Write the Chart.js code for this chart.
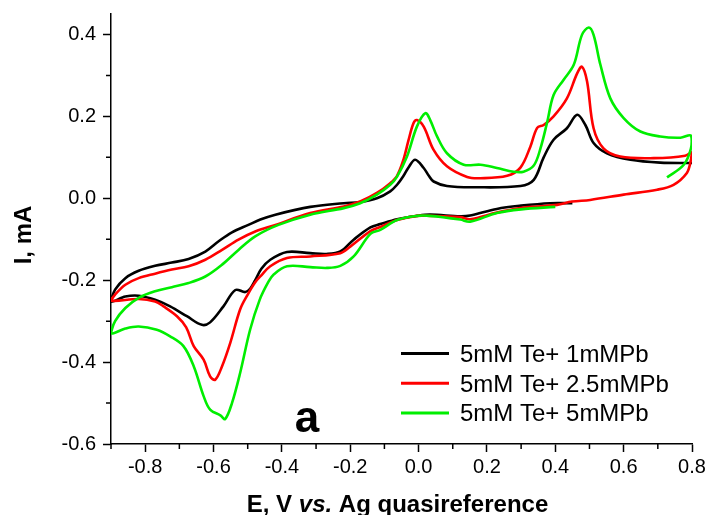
<!DOCTYPE html>
<html>
<head>
<meta charset="utf-8">
<script src="https://cdn.jsdelivr.net/npm/chart.js@4"></script>
<style>
  html, body { margin: 0; padding: 0; background: #fff; }
  #wrap { width: 707px; height: 515px; }
</style>
</head>
<body>
<div id="wrap"><canvas id="cv" width="707" height="515"></canvas></div>
<script>
// tick values
const xTicks = [-0.8, -0.6, -0.4, -0.2, 0.0, 0.2, 0.4, 0.6, 0.8];
const xMinor = [-0.9, -0.7, -0.5, -0.3, -0.1, 0.1, 0.3, 0.5, 0.7];
const yTicks = [-0.6, -0.4, -0.2, 0.0, 0.2, 0.4];
const yMinor = [-0.5, -0.3, -0.1, 0.1, 0.3];

const seriesLabels = ['5mM Te+ 1mMPb', '5mM Te+ 2.5mMPb', '5mM Te+ 5mMPb'];

// 5mM Te + 1mM Pb (E in V, I in mA), cathodic scan first then anodic
const blackE = [0.45, 0.385, 0.30, 0.229, 0.151, 0.122, 0.034, -0.005, -0.063, -0.112, -0.141, -0.19, -0.229, -0.27, -0.317,
  -0.385, -0.434, -0.46, -0.478, -0.493, -0.507, -0.536, -0.571, -0.610, -0.634, -0.678, -0.727, -0.771, -0.819, -0.858, -0.9,
  -0.888, -0.858, -0.819, -0.771, -0.722, -0.673, -0.624, -0.585, -0.546, -0.498, -0.463, -0.419, -0.317, -0.219, -0.171,
  -0.122, -0.083, -0.063, -0.044, -0.029, -0.010, 0.015, 0.03, 0.044, 0.083, 0.161, 0.298, 0.337, 0.366, 0.395, 0.434,
  0.464, 0.488, 0.512, 0.551, 0.620, 0.707, 0.80];
const blackI = [-0.012, -0.012, -0.018, -0.026, -0.042, -0.044, -0.040, -0.043, -0.051, -0.063, -0.071, -0.101, -0.130, -0.136, -0.134,
  -0.131, -0.150, -0.172, -0.200, -0.221, -0.229, -0.224, -0.264, -0.303, -0.309, -0.288, -0.264, -0.248, -0.238, -0.240, -0.252,
  -0.223, -0.195, -0.177, -0.165, -0.157, -0.148, -0.130, -0.105, -0.083, -0.065, -0.052, -0.040, -0.021, -0.012, -0.009,
  0.000, 0.017, 0.033, 0.055, 0.076, 0.094, 0.074, 0.055, 0.041, 0.030, 0.027, 0.030, 0.045, 0.100, 0.143, 0.171,
  0.204, 0.179, 0.135, 0.110, 0.094, 0.087, 0.086];

// 5mM Te + 2.5mM Pb
const redE = [0.80, 0.796, 0.785, 0.746, 0.698, 0.60, 0.502, 0.449, 0.405, 0.347, 0.298, 0.229, 0.151, 0.122, 0.034, -0.005,
  -0.063, -0.112, -0.141, -0.200, -0.229, -0.317, -0.385, -0.434, -0.46, -0.478, -0.50, -0.522, -0.551, -0.575, -0.595,
  -0.610, -0.629, -0.658, -0.68, -0.707, -0.746, -0.771, -0.819, -0.9,
  -0.888, -0.858, -0.819, -0.771, -0.722, -0.673, -0.624, -0.575, -0.527, -0.478, -0.419, -0.317, -0.219, -0.171, -0.122,
  -0.083, -0.063, -0.044, -0.030, -0.015, -0.005, 0.015, 0.044, 0.083, 0.142, 0.181, 0.259, 0.298, 0.327, 0.347, 0.366,
  0.395, 0.434, 0.464, 0.478, 0.493, 0.512, 0.541, 0.590, 0.688, 0.78, 0.80];
const redI = [0.114, 0.090, 0.062, 0.033, 0.021, 0.009, -0.004, -0.008, -0.016, -0.020, -0.024, -0.035, -0.051, -0.046, -0.043, -0.043,
  -0.053, -0.070, -0.080, -0.118, -0.134, -0.142, -0.146, -0.166, -0.188, -0.205, -0.235, -0.271, -0.353, -0.410, -0.443,
  -0.435, -0.394, -0.361, -0.315, -0.288, -0.264, -0.252, -0.246, -0.250,
  -0.235, -0.211, -0.195, -0.184, -0.174, -0.166, -0.150, -0.126, -0.101, -0.081, -0.065, -0.036, -0.020, -0.008, 0.013,
  0.037, 0.055, 0.095, 0.140, 0.183, 0.191, 0.175, 0.118, 0.078, 0.052, 0.049, 0.055, 0.075, 0.126, 0.172, 0.179,
  0.200, 0.244, 0.305, 0.321, 0.285, 0.171, 0.122, 0.102, 0.098, 0.104, 0.114];

// 5mM Te + 5mM Pb
const greenE = [0.40, 0.30, 0.229, 0.151, 0.122, 0.034, -0.005, -0.063, -0.112, -0.141, -0.19, -0.229, -0.268, -0.317, -0.385,
  -0.424, -0.44, -0.465, -0.493, -0.522, -0.546, -0.566, -0.580, -0.610, -0.629, -0.658, -0.688, -0.727, -0.766, -0.819,
  -0.858, -0.9,
  -0.888, -0.858, -0.819, -0.771, -0.722, -0.673, -0.624, -0.575, -0.527, -0.478, -0.41, -0.317, -0.219, -0.171, -0.122,
  -0.083, -0.063, -0.034, -0.005, 0.020, 0.034, 0.054, 0.083, 0.132, 0.181, 0.229, 0.278, 0.307, 0.337, 0.356, 0.376,
  0.395, 0.424, 0.454, 0.478, 0.498, 0.512, 0.532, 0.561, 0.600, 0.649, 0.707, 0.766, 0.797, 0.797, 0.776, 0.727];
const greenI = [-0.021, -0.027, -0.036, -0.057, -0.052, -0.043, -0.043, -0.053, -0.077, -0.087, -0.142, -0.165, -0.170, -0.168, -0.166,
  -0.186, -0.205, -0.248, -0.321, -0.426, -0.500, -0.539, -0.530, -0.516, -0.483, -0.410, -0.361, -0.337, -0.321, -0.313,
  -0.318, -0.330,
  -0.300, -0.268, -0.243, -0.227, -0.217, -0.207, -0.191, -0.162, -0.126, -0.093, -0.065, -0.040, -0.024, -0.012, 0.009,
  0.033, 0.053, 0.102, 0.175, 0.208, 0.191, 0.151, 0.110, 0.082, 0.082, 0.074, 0.065, 0.065, 0.080, 0.120, 0.185,
  0.252, 0.289, 0.326, 0.399, 0.417, 0.399, 0.326, 0.244, 0.196, 0.163, 0.151, 0.148, 0.153, 0.122, 0.082, 0.051];

const FONT = '"Liberation Sans", Arial, sans-serif';
Chart.defaults.font.family = FONT;
Chart.defaults.color = '#000';

const pts = (xs, ys) => xs.map((x, i) => ({x: x, y: ys[i]}));

// minor ticks, legend, titles and the panel letter
const extras = {
  id: 'extras',
  afterDraw(chart) {
    const ctx = chart.ctx;
    const area = chart.chartArea;
    const sx = chart.scales.x, sy = chart.scales.y;
    ctx.save();
    ctx.strokeStyle = '#000';
    ctx.lineWidth = 1.5;
    ctx.beginPath();
    xMinor.forEach(v => {
      const px = sx.getPixelForValue(v);
      ctx.moveTo(px, area.bottom);
      ctx.lineTo(px, area.bottom + 5);
    });
    yMinor.forEach(v => {
      const py = sy.getPixelForValue(v);
      ctx.moveTo(area.left, py);
      ctx.lineTo(area.left - 5, py);
    });
    ctx.stroke();

    // legend
    ctx.font = '24px ' + FONT;
    ctx.textAlign = 'left';
    ctx.textBaseline = 'alphabetic';
    chart.data.datasets.forEach((ds, i) => {
      const y = 353.5 + i * 29.7;
      ctx.strokeStyle = ds.borderColor;
      ctx.lineWidth = 3;
      ctx.beginPath();
      ctx.moveTo(401, y);
      ctx.lineTo(449, y);
      ctx.stroke();
      ctx.fillStyle = '#000';
      ctx.fillText(ds.label, 460, y + 8.5);
    });

    // x title with italic "vs."
    const parts = [['E, V ', 'bold '], ['vs.', 'italic bold '], [' Ag quasireference', 'bold ']];
    let total = 0;
    parts.forEach(p => { ctx.font = p[1] + '24px ' + FONT; total += ctx.measureText(p[0]).width; });
    let x = 397.5 - total / 2;
    ctx.fillStyle = '#000';
    parts.forEach(p => {
      ctx.font = p[1] + '24px ' + FONT;
      ctx.fillText(p[0], x, 512);
      x += ctx.measureText(p[0]).width;
    });

    // y title
    ctx.save();
    ctx.translate(31, 235);
    ctx.rotate(-Math.PI / 2);
    ctx.font = 'bold 24px ' + FONT;
    ctx.textAlign = 'center';
    ctx.fillText('I, mA', 0, 0);
    ctx.restore();

    // panel letter
    ctx.font = 'bold 44px ' + FONT;
    ctx.textAlign = 'center';
    ctx.fillText('a', 307, 432);
    ctx.restore();
  }
};

new Chart(document.getElementById('cv'), {
  type: 'scatter',
  data: {
    datasets: [
      {label: seriesLabels[0], data: pts(blackE, blackI), borderColor: '#000000', order: 3},
      {label: seriesLabels[1], data: pts(redE, redI), borderColor: '#ff0000', order: 2},
      {label: seriesLabels[2], data: pts(greenE, greenI), borderColor: '#00ee00', order: 1}
    ].map(d => Object.assign(d, {showLine: true, pointRadius: 0, borderWidth: 2.6, tension: 0.35, fill: false}))
  },
  options: {
    responsive: false,
    animation: false,
    layout: {padding: {top: 14, right: 15, left: 0, bottom: 0}},
    plugins: {legend: {display: false}, tooltip: {enabled: false}},
    scales: {
      x: {
        type: 'linear', min: -0.9, max: 0.8,
        afterBuildTicks: s => { s.ticks = xTicks.map(v => ({value: v})); },
        afterFit: s => { s.height = 71; s.paddingLeft = 0; s.paddingRight = 0; },
        ticks: {font: {size: 20}, padding: 3, maxRotation: 0, callback: v => v.toFixed(1)},
        grid: {drawOnChartArea: false, drawTicks: true, tickLength: 8, tickWidth: 1.5, tickColor: '#000'},
        border: {display: true, color: '#000', width: 1.5}
      },
      y: {
        type: 'linear', min: -0.6, max: 0.45,
        afterBuildTicks: s => { s.ticks = yTicks.map(v => ({value: v})); },
        afterFit: s => { s.width = 111; s.paddingTop = 0; s.paddingBottom = 0; },
        ticks: {font: {size: 20}, padding: 7, callback: v => v.toFixed(1)},
        grid: {drawOnChartArea: false, drawTicks: true, tickLength: 8, tickWidth: 1.5, tickColor: '#000'},
        border: {display: true, color: '#000', width: 1.5}
      }
    }
  },
  plugins: [extras]
});
</script>
</body>
</html>
